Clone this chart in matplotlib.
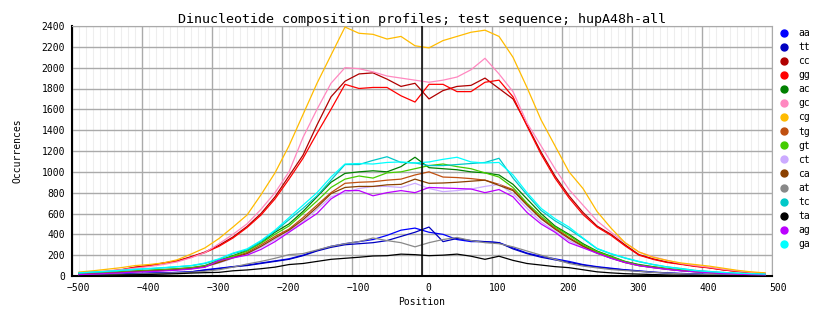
import numpy as np
import matplotlib.pyplot as plt
from matplotlib.lines import Line2D
from matplotlib.transforms import ScaledTranslation

# window positions (-490 .. 490, step 20)
positions = list(range(-490, 491, 20))

aa = [10, 12, 15, 20, 25, 28, 30, 35, 40, 60, 75, 90, 105, 125, 145, 165, 200, 245, 285, 310,
      330, 350, 390, 440, 460, 420, 400, 350, 330, 330, 320, 270, 220, 190, 165, 140, 110, 90, 75, 60,
      50, 38, 30, 25, 20, 16, 14, 12, 10, 8]
tt = [9, 11, 14, 18, 22, 26, 30, 34, 40, 55, 70, 88, 100, 120, 140, 160, 195, 240, 275, 300,
      310, 320, 340, 380, 420, 470, 330, 360, 340, 330, 320, 260, 215, 180, 155, 130, 105, 85, 70, 58,
      45, 35, 28, 22, 18, 15, 12, 10, 9, 7]
cc = [28, 35, 45, 60, 85, 100, 125, 145, 185, 230, 295, 375, 475, 600, 760, 960, 1160, 1450, 1720, 1870,
      1940, 1950, 1890, 1820, 1850, 1700, 1780, 1820, 1830, 1900, 1800, 1700, 1450, 1190, 960, 770, 610, 480, 400, 300,
      205, 165, 134, 115, 95, 80, 60, 45, 33, 25]
gg = [26, 34, 44, 58, 82, 98, 122, 142, 180, 225, 285, 365, 465, 585, 740, 930, 1130, 1370, 1600, 1840,
      1800, 1810, 1810, 1730, 1670, 1840, 1840, 1770, 1770, 1860, 1880, 1720, 1440, 1170, 940, 750, 590, 470, 390, 290,
      200, 160, 130, 112, 92, 78, 58, 44, 32, 24]
ac = [20, 26, 32, 40, 48, 55, 62, 70, 80, 100, 150, 195, 245, 320, 420, 500, 620, 760, 900, 985,
      1000, 1010, 1000, 1050, 1140, 1040, 1030, 1020, 1000, 990, 970, 880, 740, 600, 480, 400, 310, 240, 190, 140,
      110, 90, 72, 58, 46, 36, 28, 22, 17, 14]
gc = [30, 40, 50, 60, 75, 90, 110, 135, 175, 225, 310, 400, 500, 640, 800, 1000, 1330, 1600, 1850, 2000,
      1990, 1960, 1920, 1900, 1880, 1860, 1880, 1910, 1980, 2090, 1940, 1770, 1470, 1250, 1030, 830, 680, 530, 420, 320,
      230, 185, 150, 120, 100, 85, 65, 50, 35, 25]
cg = [38, 50, 65, 80, 100, 110, 125, 155, 210, 270, 360, 470, 585, 780, 990, 1250, 1550, 1850, 2120, 2390,
      2330, 2320, 2275, 2300, 2210, 2190, 2260, 2300, 2340, 2360, 2300, 2100, 1810, 1500, 1250, 1000, 840, 620, 460, 320,
      230, 180, 150, 125, 110, 95, 75, 55, 40, 30]
tg = [18, 24, 30, 36, 44, 50, 56, 64, 74, 92, 135, 180, 225, 300, 380, 450, 560, 680, 800, 890,
      900, 905, 920, 930, 970, 1000, 950, 945, 935, 920, 880, 830, 690, 560, 460, 370, 290, 225, 175, 130,
      100, 82, 66, 52, 42, 33, 26, 20, 16, 12]
gt = [19, 25, 31, 38, 46, 52, 60, 68, 78, 96, 145, 190, 238, 315, 400, 480, 600, 720, 850, 930,
      960, 940, 990, 1000, 1030, 1060, 1075, 1050, 1030, 990, 950, 850, 700, 575, 470, 390, 300, 235, 185, 138,
      105, 86, 70, 55, 44, 35, 27, 21, 16, 13]
ct = [15, 20, 26, 32, 40, 45, 52, 60, 70, 88, 125, 170, 210, 275, 350, 430, 520, 640, 760, 800,
      840, 860, 860, 850, 890, 840, 810, 820, 835, 860, 880, 790, 650, 520, 430, 340, 275, 215, 170, 128,
      98, 80, 64, 50, 40, 32, 25, 19, 15, 11]
ca = [17, 22, 28, 34, 42, 48, 54, 62, 72, 90, 130, 175, 215, 285, 365, 440, 540, 660, 790, 850,
      860, 860, 875, 880, 930, 890, 893, 900, 910, 920, 870, 820, 680, 550, 450, 360, 285, 220, 172, 130,
      100, 82, 65, 51, 41, 32, 25, 19, 15, 12]
at = [8, 10, 12, 15, 18, 22, 26, 30, 35, 45, 60, 85, 115, 140, 170, 205, 215, 250, 285, 310,
      330, 365, 340, 320, 280, 320, 350, 370, 340, 320, 310, 280, 240, 200, 160, 120, 95, 78, 62, 52,
      45, 35, 28, 22, 18, 14, 11, 9, 7, 6]
tc = [28, 36, 43, 52, 62, 70, 78, 88, 98, 120, 160, 215, 250, 330, 430, 540, 650, 770, 920, 1070,
      1070, 1110, 1145, 1090, 1085, 1060, 1060, 1070, 1080, 1090, 1130, 940, 780, 630, 530, 450, 360, 262, 212, 172,
      137, 110, 88, 72, 54, 44, 34, 27, 21, 17]
ta = [5, 6, 8, 10, 12, 15, 18, 22, 28, 32, 35, 50, 58, 70, 85, 110, 120, 140, 160, 170,
      180, 192, 195, 210, 205, 195, 200, 210, 190, 160, 190, 150, 120, 105, 90, 80, 60, 40, 30, 22,
      18, 14, 10, 8, 6, 5, 4, 3, 2, 2]
ag = [14, 18, 24, 30, 37, 42, 48, 56, 66, 84, 150, 175, 200, 255, 330, 420, 510, 600, 740, 820,
      820, 770, 800, 820, 800, 850, 845, 840, 835, 800, 830, 760, 610, 500, 420, 320, 270, 220, 170, 130,
      100, 80, 64, 50, 40, 32, 24, 18, 14, 11]
ga = [30, 38, 45, 55, 65, 72, 80, 90, 100, 125, 165, 220, 260, 340, 440, 560, 680, 800, 950, 1075,
      1080, 1075, 1090, 1095, 1085, 1095, 1120, 1140, 1095, 1085, 1090, 970, 800, 650, 550, 470, 365, 265, 215, 175,
      140, 110, 86, 70, 52, 42, 34, 28, 22, 18]

names = ['aa', 'tt', 'cc', 'gg', 'ac', 'gc', 'cg', 'tg', 'gt', 'ct', 'ca', 'at', 'tc', 'ta', 'ag', 'ga']
series = [aa, tt, cc, gg, ac, gc, cg, tg, gt, ct, ca, at, tc, ta, ag, ga]
colors = ['#0000ff', '#0000c0', '#b00000', '#ff0000', '#008000', '#ff88c0', '#ffbb00', '#c05010',
          '#44cc00', '#ccaaff', '#8b4000', '#888888', '#00c8c8', '#000000', '#bb00ff', '#00ffff']

mono = 'DejaVu Sans Mono'

fig = plt.figure(figsize=(8.34, 3.28), dpi=100)
ax = fig.add_axes([72 / 834, 52 / 328, 700 / 834, 250 / 328])

# minor and major grid
for x in range(-500, 501, 10):
    if x % 100:
        ax.axvline(x, color='#eeeeee', lw=0.8, zorder=0)
ax.set_xticks(range(-500, 501, 100))
ax.set_yticks(range(0, 2401, 200))
ax.grid(True, color='#aaaaaa', lw=1, zorder=1)
ax.set_axisbelow(True)

for s, c in zip(series, colors):
    ax.plot(positions, s, color=c, lw=0.9, zorder=3)

ax.axvline(0, color='black', lw=1.1, zorder=4)

ax.set_xlim(-500, 500)
ax.set_ylim(0, 2400)

for side in ['top', 'right']:
    ax.spines[side].set_color('#aaaaaa')
for side in ['left', 'bottom']:
    ax.spines[side].set_color('black')
    ax.spines[side].set_linewidth(1.5)

ax.tick_params(length=0, labelsize=7, pad=5)
for lab in ax.get_xticklabels() + ax.get_yticklabels():
    lab.set_family(mono)
for lab in ax.get_xticklabels():
    lab.set_transform(lab.get_transform() + ScaledTranslation(0.06, 0, fig.dpi_scale_trans))

ax.set_title('Dinucleotide composition profiles; test sequence; hupA48h-all',
             family=mono, fontsize=9.6, pad=2)
ax.set_xlabel('Position', family=mono, fontsize=7, labelpad=3)
ax.set_ylabel('Occurrences', family=mono, fontsize=7, labelpad=14)

handles = [Line2D([], [], marker='o', ls='none', color=c, markersize=5) for c in colors]
ax.legend(handles, names, loc='upper left', bbox_to_anchor=(779 / 834, 1 - 28 / 328),
          bbox_transform=fig.transFigure, frameon=False, handlelength=1, handletextpad=1.0,
          labelspacing=0.42, borderpad=0, borderaxespad=0, prop={'family': mono, 'size': 7})

fig.savefig('out.png', dpi=100)
